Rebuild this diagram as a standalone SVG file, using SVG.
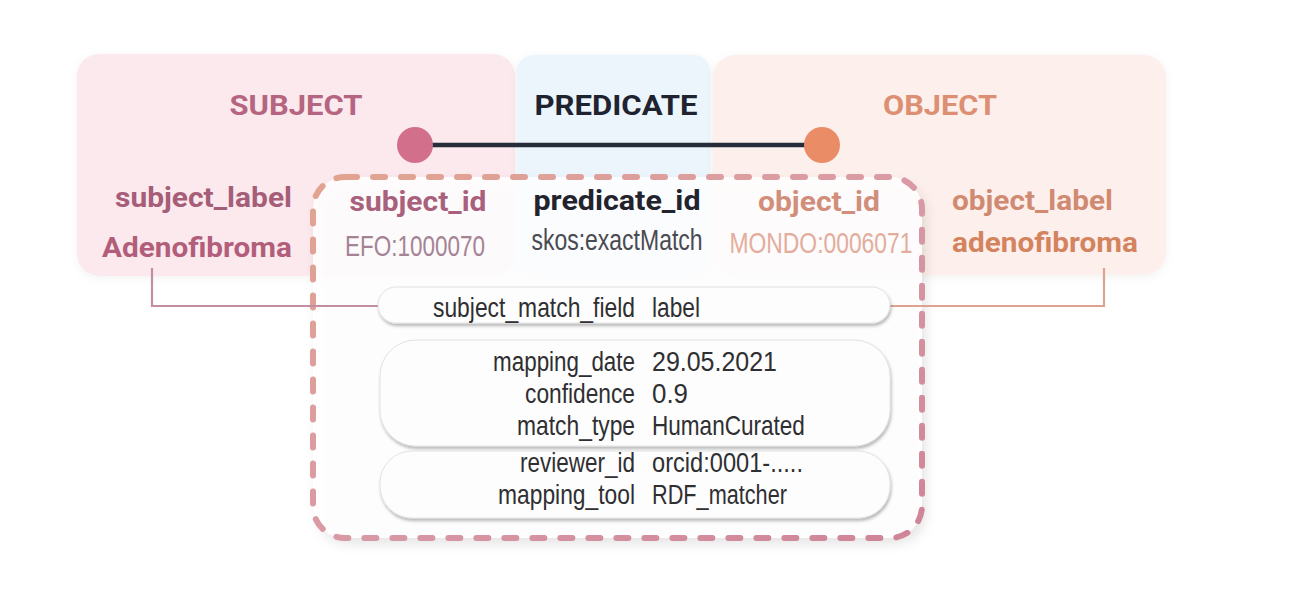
<svg xmlns="http://www.w3.org/2000/svg" width="1304" height="605" viewBox="0 0 1304 605">
  <defs>
    <linearGradient id="dashGrad" x1="0" y1="0" x2="1" y2="1">
      <stop offset="0" stop-color="#e2a48f"/>
      <stop offset="0.5" stop-color="#d99aa6"/>
      <stop offset="1" stop-color="#cf8497"/>
    </linearGradient>
    <filter id="boxShadow" x="-10%" y="-10%" width="125%" height="125%">
      <feDropShadow dx="4" dy="6" stdDeviation="6" flood-color="#000" flood-opacity="0.12"/>
    </filter>
    <filter id="pillShadow" x="-5%" y="-20%" width="110%" height="150%">
      <feDropShadow dx="1" dy="2.5" stdDeviation="1.8" flood-color="#000" flood-opacity="0.28"/>
    </filter>
    <filter id="softShadow" x="-5%" y="-10%" width="110%" height="125%">
      <feDropShadow dx="0" dy="2" stdDeviation="4" flood-color="#000" flood-opacity="0.05"/>
    </filter>
  </defs>
  <style>
    .head { font-family: Roboto, "Liberation Sans", sans-serif; font-weight: 700; font-size: 27px; }
    .lab { font-family: Roboto, "Liberation Sans", sans-serif; font-weight: 700; font-size: 27px; }
    .cond { font-family: "Liberation Sans", Arial, sans-serif; font-weight: 400; font-size: 30px; }
    .pk { font-family: "Liberation Sans", Arial, sans-serif; font-weight: 400; font-size: 28px; fill: #2f2f32; }
    .pill { fill: #fdfdfd; stroke: #e2e2e2; stroke-width: 1; filter: url(#pillShadow); }
    .conn { fill: none; stroke-width: 2.2; }
  </style>
  <rect width="1304" height="605" fill="#ffffff"/>

  <g id="subject">
    <rect x="77" y="54" width="438" height="222" rx="22" fill="#fbe9ee" filter="url(#softShadow)"/>
    <text class="head" x="296" y="115" text-anchor="middle" fill="#b5657f" textLength="133" lengthAdjust="spacingAndGlyphs">SUBJECT</text>
    <text class="lab" x="292" y="207" text-anchor="end" fill="#a65d78" textLength="177" lengthAdjust="spacingAndGlyphs">subject_label</text>
    <text class="lab" x="292" y="257" text-anchor="end" fill="#b25e7a" textLength="190" lengthAdjust="spacingAndGlyphs">Adenofibroma</text>
  </g>

  <g id="predicate">
    <rect x="517" y="55" width="193" height="221" rx="16" fill="#ecf5fb" filter="url(#softShadow)"/>
    <text class="head" x="616" y="115" text-anchor="middle" fill="#1f2330" textLength="163" lengthAdjust="spacingAndGlyphs">PREDICATE</text>
  </g>

  <g id="object">
    <rect x="713" y="55" width="453" height="220" rx="22" fill="#fdf0ec" filter="url(#softShadow)"/>
    <text class="head" x="940" y="115" text-anchor="middle" fill="#dc8f72" textLength="114" lengthAdjust="spacingAndGlyphs">OBJECT</text>
    <text class="lab" x="952" y="210" fill="#d18a72" textLength="161" lengthAdjust="spacingAndGlyphs">object_label</text>
    <text class="lab" x="952" y="252" fill="#d3845f" textLength="186" lengthAdjust="spacingAndGlyphs">adenofibroma</text>
  </g>

  <g id="mapping">
    <rect x="313" y="177" width="609" height="361" rx="32" fill="#ffffff" fill-opacity="0.86" filter="url(#boxShadow)"/>
    <rect x="313" y="177" width="609" height="361" rx="32" fill="none" stroke="url(#dashGrad)" stroke-width="6" stroke-dasharray="12 16" stroke-linecap="round"/>

    <text class="lab" x="418" y="211" text-anchor="middle" fill="#a9607c" textLength="137" lengthAdjust="spacingAndGlyphs">subject_id</text>
    <text class="cond" transform="translate(415 256) scale(0.75 1)" text-anchor="middle" fill="#a48494">EFO:1000070</text>

    <text class="lab" x="617" y="210" text-anchor="middle" fill="#23232e" textLength="167" lengthAdjust="spacingAndGlyphs">predicate_id</text>
    <text class="cond" transform="translate(617 250) scale(0.766 1)" text-anchor="middle" fill="#4a4a52">skos:exactMatch</text>

    <text class="lab" x="819" y="211" text-anchor="middle" fill="#d18e7a" textLength="122" lengthAdjust="spacingAndGlyphs">object_id</text>
    <text class="cond" transform="translate(821 253) scale(0.762 1)" text-anchor="middle" fill="#e3ad9d">MONDO:0006071</text>
  </g>

  <g id="connectors">
    <line x1="415" y1="145" x2="822" y2="145" stroke="#262c3a" stroke-width="4.5"/>
    <path class="conn" d="M152 268 V306 H380" stroke="#c28ea0"/>
    <path class="conn" d="M1104 268 V306 H888" stroke="#dba390"/>
  </g>

  <g id="subject_node">
    <circle cx="415" cy="145" r="18" fill="#d2708c"/>
  </g>
  <g id="object_node">
    <circle cx="822" cy="145" r="18" fill="#ea8c66"/>
  </g>

  <g id="pill_match_field">
    <rect class="pill" x="378" y="287" width="512" height="36" rx="18"/>
    <text class="pk" transform="translate(635 317) scale(0.817 1)" text-anchor="end">subject_match_field</text>
    <text class="pk" transform="translate(652 317) scale(0.812 1)">label</text>
  </g>

  <g id="pill_curation">
    <rect class="pill" x="380" y="340" width="510" height="106" rx="36"/>
    <text class="pk" transform="translate(635 371) scale(0.8 1)" text-anchor="end">mapping_date</text>
    <text class="pk" transform="translate(652 371) scale(0.892 1)">29.05.2021</text>
    <text class="pk" transform="translate(635 403) scale(0.812 1)" text-anchor="end">confidence</text>
    <text class="pk" transform="translate(652 403) scale(0.925 1)">0.9</text>
    <text class="pk" transform="translate(635 435) scale(0.815 1)" text-anchor="end">match_type</text>
    <text class="pk" transform="translate(652 435) scale(0.806 1)">HumanCurated</text>
  </g>

  <g id="pill_provenance">
    <rect class="pill" x="380" y="451" width="510" height="67" rx="32"/>
    <text class="pk" transform="translate(635 472) scale(0.804 1)" text-anchor="end">reviewer_id</text>
    <text class="pk" transform="translate(652 472) scale(0.844 1)">orcid:0001-.....</text>
    <text class="pk" transform="translate(635 504) scale(0.815 1)" text-anchor="end">mapping_tool</text>
    <text class="pk" transform="translate(652 504) scale(0.775 1)">RDF_matcher</text>
  </g>
</svg>
